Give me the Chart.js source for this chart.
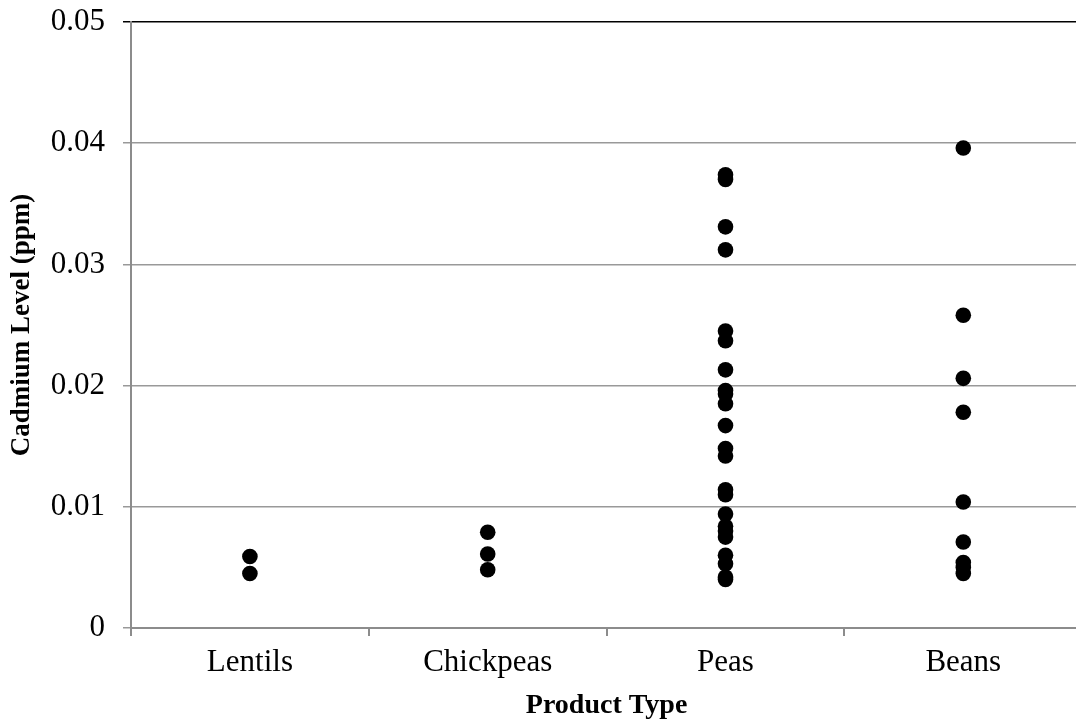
<!DOCTYPE html>
<html lang="en">
  <head>
    <meta charset="UTF-8" />
    <script src="https://cdn.jsdelivr.net/npm/chart.js"></script>
    <style>
      body {
        margin: 0;
        padding: 0;
        background: #ffffff;
        overflow: hidden;
      }
      .wrap {
        width: 1076px;
        height: 723px;
        overflow: hidden;
      }
      .inner {
        width: 1090px;
        height: 723px;
      }
    </style>
  </head>
  <body>
    <div class="wrap">
      <div class="inner"><canvas id="chart" width="1090" height="723"></canvas></div>
    </div>

    <script>
      const categories = ["Lentils", "Chickpeas", "Peas", "Beans"];
      const lentils = [0.0059, 0.0045];
      const chickpeas = [0.0079, 0.0061, 0.0048];
      const peas = [
        0.0374, 0.0370, 0.0331, 0.0312, 0.0245, 0.0237, 0.0213, 0.0196, 0.0193,
        0.0185, 0.0167, 0.0148, 0.0142, 0.0114, 0.0110, 0.0094, 0.0084, 0.0080,
        0.0075, 0.0060, 0.0053, 0.0042, 0.0040
      ];
      const beans = [0.0396, 0.0258, 0.0206, 0.0178, 0.0104, 0.0071, 0.0054, 0.0050, 0.0045];
      const yTickLabels = ["0", "0.01", "0.02", "0.03", "0.04", "0.05"];

      const groups = [lentils, chickpeas, peas, beans];
      const points = [];
      groups.forEach((vals, i) => {
        vals.forEach(v => points.push({ x: categories[i], y: v }));
      });

      const serif = "'Liberation Serif', 'DejaVu Serif', serif";

      new Chart(document.getElementById("chart"), {
        type: "scatter",
        data: {
          labels: categories,
          datasets: [{
            data: points,
            pointRadius: 7.8,
            pointHoverRadius: 7.8,
            pointBackgroundColor: "#000",
            pointBorderWidth: 0,
            borderColor: "#000"
          }]
        },
        options: {
          responsive: false,
          animation: false,
          layout: { padding: { top: 22, left: 0, right: 0, bottom: 0 } },
          plugins: {
            legend: { display: false },
            tooltip: { enabled: false }
          },
          scales: {
            x: {
              type: "category",
              labels: categories,
              offset: true,
              grid: {
                offset: true,
                drawOnChartArea: false,
                tickLength: 8,
                color: "#8c8c8c",
                lineWidth: 2
              },
              border: { color: "#8c8c8c", width: 2 },
              ticks: {
                color: "#000",
                padding: 8,
                font: { family: serif, size: 31 }
              },
              title: {
                display: true,
                text: "Product Type",
                color: "#000",
                padding: { top: 2, bottom: 0 },
                font: { family: serif, size: 28, weight: "bold" }
              },
              afterFit: s => { s.height = 95; }
            },
            y: {
              min: 0,
              max: 0.05,
              ticks: {
                stepSize: 0.01,
                color: "#000",
                padding: 18,
                font: { family: serif, size: 31 },
                callback: v => yTickLabels[Math.round(v * 100)]
              },
              grid: {
                tickLength: 8,
                lineWidth: 1.5,
                color: ctx => (ctx.tick && ctx.tick.value >= 0.05 ? "#000" : "#999")
              },
              border: { color: "#8c8c8c", width: 2 },
              title: {
                display: true,
                text: "Cadmium Level (ppm)",
                color: "#000",
                padding: { top: 6, bottom: 0 },
                font: { family: serif, size: 27, weight: "bold" }
              },
              afterFit: s => {
                s.width = 131;
                s.paddingTop = 0;
                s.paddingBottom = 0;
              }
            }
          }
        }
      });
    </script>
  </body>
</html>
